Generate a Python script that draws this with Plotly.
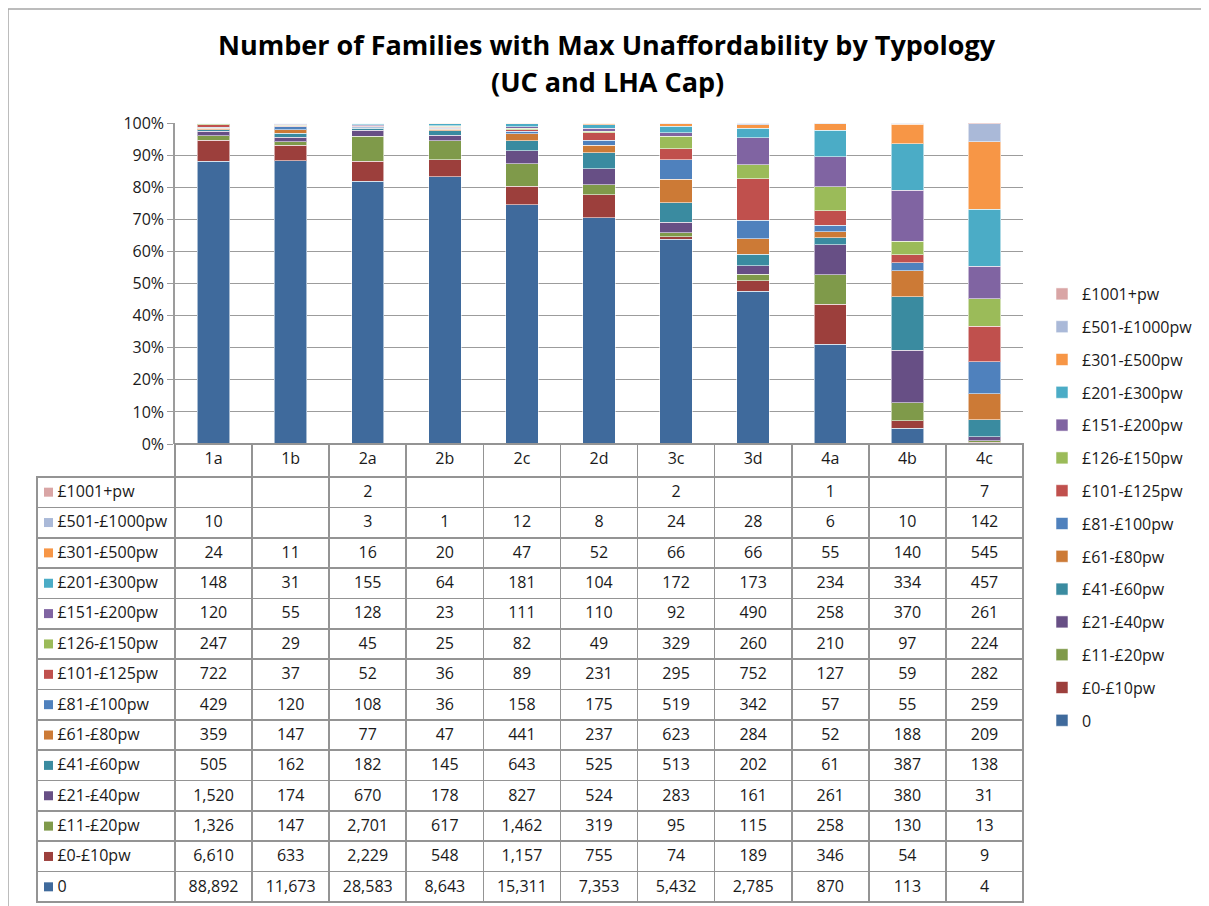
import plotly.graph_objects as go

W, H = 1209, 906

categories = ['1a', '1b', '2a', '2b', '2c', '2d', '3c', '3d', '4a', '4b', '4c']

# series, bottom of stack first
series_names = ['0', '£0-£10pw', '£11-£20pw', '£21-£40pw', '£41-£60pw', '£61-£80pw',
                '£81-£100pw', '£101-£125pw', '£126-£150pw', '£151-£200pw',
                '£201-£300pw', '£301-£500pw', '£501-£1000pw', '£1001+pw']

v_0 = [88892, 11673, 28583, 8643, 15311, 7353, 5432, 2785, 870, 113, 4]
v_0_10 = [6610, 633, 2229, 548, 1157, 755, 74, 189, 346, 54, 9]
v_11_20 = [1326, 147, 2701, 617, 1462, 319, 95, 115, 258, 130, 13]
v_21_40 = [1520, 174, 670, 178, 827, 524, 283, 161, 261, 380, 31]
v_41_60 = [505, 162, 182, 145, 643, 525, 513, 202, 61, 387, 138]
v_61_80 = [359, 147, 77, 47, 441, 237, 623, 284, 52, 188, 209]
v_81_100 = [429, 120, 108, 36, 158, 175, 519, 342, 57, 55, 259]
v_101_125 = [722, 37, 52, 36, 89, 231, 295, 752, 127, 59, 282]
v_126_150 = [247, 29, 45, 25, 82, 49, 329, 260, 210, 97, 224]
v_151_200 = [120, 55, 128, 23, 111, 110, 92, 490, 258, 370, 261]
v_201_300 = [148, 31, 155, 64, 181, 104, 172, 173, 234, 334, 457]
v_301_500 = [24, 11, 16, 20, 47, 52, 66, 66, 55, 140, 545]
v_501_1000 = [10, None, 3, 1, 12, 8, 24, 28, 6, 10, 142]
v_1001 = [None, None, 2, None, None, None, 2, None, 1, None, 7]

series_values = [v_0, v_0_10, v_11_20, v_21_40, v_41_60, v_61_80, v_81_100,
                 v_101_125, v_126_150, v_151_200, v_201_300, v_301_500,
                 v_501_1000, v_1001]

colors = ['#3F6A9C', '#9C3F3C', '#7F9A4A', '#674F85', '#3A8BA0', '#CC7A36',
          '#4F81BD', '#C0504D', '#9BBB59', '#8064A2', '#4BACC6', '#F79646',
          '#AAB9D8', '#D9A5A5']

y_tick_vals = [0, 10, 20, 30, 40, 50, 60, 70, 80, 90, 100]
y_tick_text = ['0%', '10%', '20%', '30%', '40%', '50%', '60%', '70%', '80%', '90%', '100%']

FONT = 'Open Sans, DejaVu Sans, sans-serif'
TXT = '#1a1a1a'
GRID = '#9c9c9c'
CELL_LINE = '#949494'

OFF = 8  # page offset of the plot div

def px_x(p):
    return (p - OFF) / W

def px_y(p):
    return (H - (p - OFF)) / H

plot_left, plot_right = 175, 1023
y_top, y_bot = 123, 444
label_left = 37
head_h = 33
table_bottom = 902
n_rows = len(series_names)
row_h = (table_bottom - (y_bot + head_h)) / n_rows

fig = go.Figure()

for i, (name, vals, col) in enumerate(zip(series_names, series_values, colors)):
    fig.add_trace(go.Bar(
        x=categories, y=[v if v is not None else 0 for v in vals], name=name,
        marker=dict(color=col, line=dict(color='rgba(255,255,255,0.55)', width=1)),
        width=0.42, legendgroup=name, legendrank=1000 - i,
    ))

# Category header row under the bars
fig.add_trace(go.Table(
    domain=dict(x=[px_x(plot_left), px_x(plot_right)], y=[px_y(y_bot + head_h + 1), px_y(y_bot)]),
    columnwidth=[1] * len(categories),
    header=dict(values=categories, height=head_h, align='center',
                fill_color='white', line=dict(color=CELL_LINE, width=1.6),
                font=dict(family=FONT, size=16, color=TXT)),
    cells=dict(values=[[] for _ in categories], height=row_h,
               fill_color='white', line=dict(color=CELL_LINE, width=1.6)),
))

# Data table: rows top to bottom are series in reverse order
def fmt(v):
    return '' if v is None else f'{v:,}'

rows = list(zip(series_names, series_values, colors))[::-1]
row_names = [r[0] for r in rows]
row_colors = [r[2] for r in rows]
labels = ['\u00a0\u00a0\u00a0' + nm for nm in row_names]
cols = [labels] + [[fmt(vals[i]) for _, vals, _ in rows] for i in range(len(categories))]
header_vals = [c[0] for c in cols]
cell_vals = [c[1:] for c in cols]

fig.add_trace(go.Table(
    domain=dict(x=[px_x(label_left), px_x(plot_right)], y=[px_y(table_bottom + 2), px_y(y_bot + head_h)]),
    columnwidth=[plot_left - label_left] + [(plot_right - plot_left) / len(categories)] * len(categories),
    header=dict(values=header_vals, height=row_h,
                align=['left'] + ['center'] * len(categories),
                fill_color='rgba(0,0,0,0)', line=dict(color=CELL_LINE, width=1.6),
                font=dict(family=FONT, size=16, color=TXT)),
    cells=dict(values=cell_vals, height=row_h,
               align=['left'] + ['center'] * len(categories),
               fill_color='rgba(0,0,0,0)', line=dict(color=CELL_LINE, width=1.6),
               font=dict(family=FONT, size=16, color=TXT)),
))

# colour keys in the table's label column
fig.add_trace(go.Scatter(
    x=[11.5] * n_rows, y=row_names, mode='markers', xaxis='x2', yaxis='y2',
    marker=dict(symbol='square', size=9, color=row_colors, line=dict(width=0)),
    showlegend=False, hoverinfo='skip',
))

fig.update_layout(
    width=W, height=H, autosize=False,
    margin=dict(l=0, r=0, t=0, b=0, autoexpand=False),
    paper_bgcolor='white', plot_bgcolor='rgba(0,0,0,0)',
    barmode='stack', barnorm='percent',
    font=dict(family=FONT, size=16, color=TXT),
    xaxis=dict(domain=[px_x(plot_left), px_x(plot_right)], showticklabels=False,
               showgrid=False, zeroline=False, showline=False, ticks='',
               range=[-0.5, len(categories) - 0.5], automargin=False),
    yaxis=dict(domain=[px_y(y_bot), px_y(y_top)], range=[0, 100],
               tickvals=y_tick_vals, ticktext=y_tick_text,
               showgrid=True, gridcolor=GRID, gridwidth=1,
               zeroline=False, showline=True, linecolor=GRID, linewidth=1.5,
               ticks='outside', ticklen=6, tickcolor=GRID, automargin=False,
               tickfont=dict(family=FONT, size=16, color=TXT)),
    xaxis2=dict(domain=[px_x(label_left), px_x(plot_left)], range=[0, plot_left - label_left],
                visible=False, anchor='y2', automargin=False),
    yaxis2=dict(domain=[px_y(table_bottom), px_y(y_bot + head_h)], type='category',
                categoryorder='array', categoryarray=row_names,
                range=[n_rows - 0.5, -0.5], visible=False, anchor='x2', automargin=False),
    legend=dict(x=px_x(1042), y=px_y(277), xanchor='left', yanchor='top',
                traceorder='grouped', tracegroupgap=9,
                font=dict(family=FONT, size=16, color=TXT),
                bgcolor='rgba(0,0,0,0)', itemclick=False),
    annotations=[
        dict(text='<b>Number of Families with Max Unaffordability by Typology</b>',
             xref='paper', yref='paper', x=px_x(607), y=px_y(45), xanchor='center', yanchor='middle',
             showarrow=False, font=dict(family=FONT, size=27, color='#000000')),
        dict(text='<b>(UC and LHA Cap)</b>',
             xref='paper', yref='paper', x=px_x(607), y=px_y(82), xanchor='center', yanchor='middle',
             showarrow=False, font=dict(family=FONT, size=27, color='#000000')),
    ],
    shapes=[dict(type='rect', xref='paper', yref='paper',
                 x0=px_x(8), x1=px_x(1202), y0=-0.05, y1=px_y(OFF + 1),
                 line=dict(color='#A6A6A6', width=1.5), fillcolor='rgba(0,0,0,0)', layer='below')],
)

fig.write_html('out.html')
